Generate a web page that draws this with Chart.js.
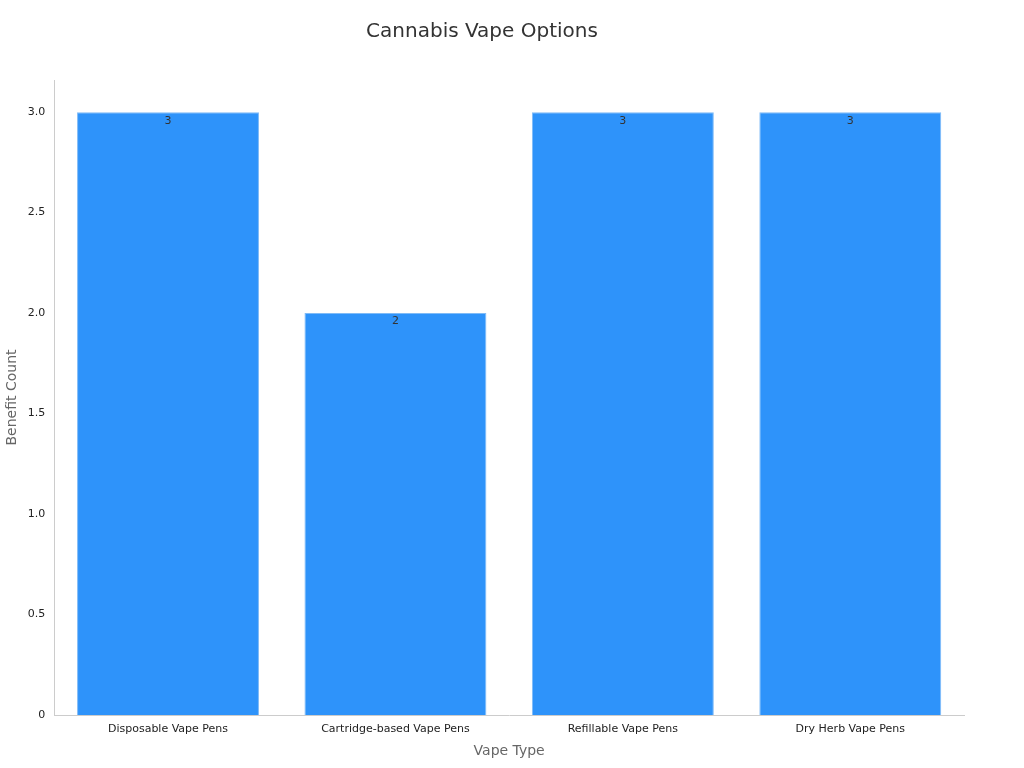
<!DOCTYPE html>
<html><head><meta charset="utf-8">
<script src="https://cdn.jsdelivr.net/npm/chart.js@4"></script>
<style>html,body{margin:0;padding:0;background:#fff}#w{width:1024px;height:768px}</style>
</head><body><div id="w"><canvas id="c"></canvas></div>
<script>
const categories = ["Disposable Vape Pens","Cartridge-based Vape Pens","Refillable Vape Pens","Dry Herb Vape Pens"];
const benefitCounts = [3,2,3,3];
const yTickStep = 0.5;
Chart.defaults.font.family = "DejaVu Sans";
const labelPlugin = {
  id:'vals',
  afterDatasetsDraw(chart){
    const ctx = chart.ctx;
    chart.getDatasetMeta(0).data.forEach((bar,i)=>{
      ctx.save();
      ctx.fillStyle='#333';ctx.font='11px DejaVu Sans';ctx.textAlign='center';ctx.textBaseline='top';
      ctx.fillText(String(benefitCounts[i]), bar.x, bar.y+3);
      ctx.restore();
    });
  }
};
new Chart(document.getElementById('c'),{
  type:'bar',
  data:{labels:categories,datasets:[{data:benefitCounts,backgroundColor:'#2E93FA',borderColor:'#7FBBF7',borderWidth:1,categoryPercentage:0.8,barPercentage:1}]},
  options:{
    responsive:true,maintainAspectRatio:false,animation:false,
    layout:{padding:{left:0,right:60,top:10,bottom:4}},
    plugins:{legend:{display:false},tooltip:{enabled:false},
      title:{display:true,text:'Cannabis Vape Options',color:'#333',font:{size:20,weight:'normal'},padding:{top:10,bottom:36}}},
    scales:{
      x:{grid:{display:false,drawTicks:true,tickLength:5},border:{color:'#ccc'},
         ticks:{color:'#222',font:{size:11}},
         title:{display:true,text:'Vape Type',color:'#666',font:{size:14}}},
      y:{min:0,max:3.16,grid:{display:false,drawTicks:true,tickLength:6},border:{color:'#ccc'},
         ticks:{stepSize:yTickStep,color:'#222',font:{size:11}},
         afterBuildTicks(ax){ax.ticks=ax.ticks.filter(t=>Math.abs(t.value/yTickStep-Math.round(t.value/yTickStep))<1e-9);},
         title:{display:true,text:'Benefit Count',color:'#666',font:{size:14}}}
    }
  },
  plugins:[labelPlugin]
});
</script></body></html>
